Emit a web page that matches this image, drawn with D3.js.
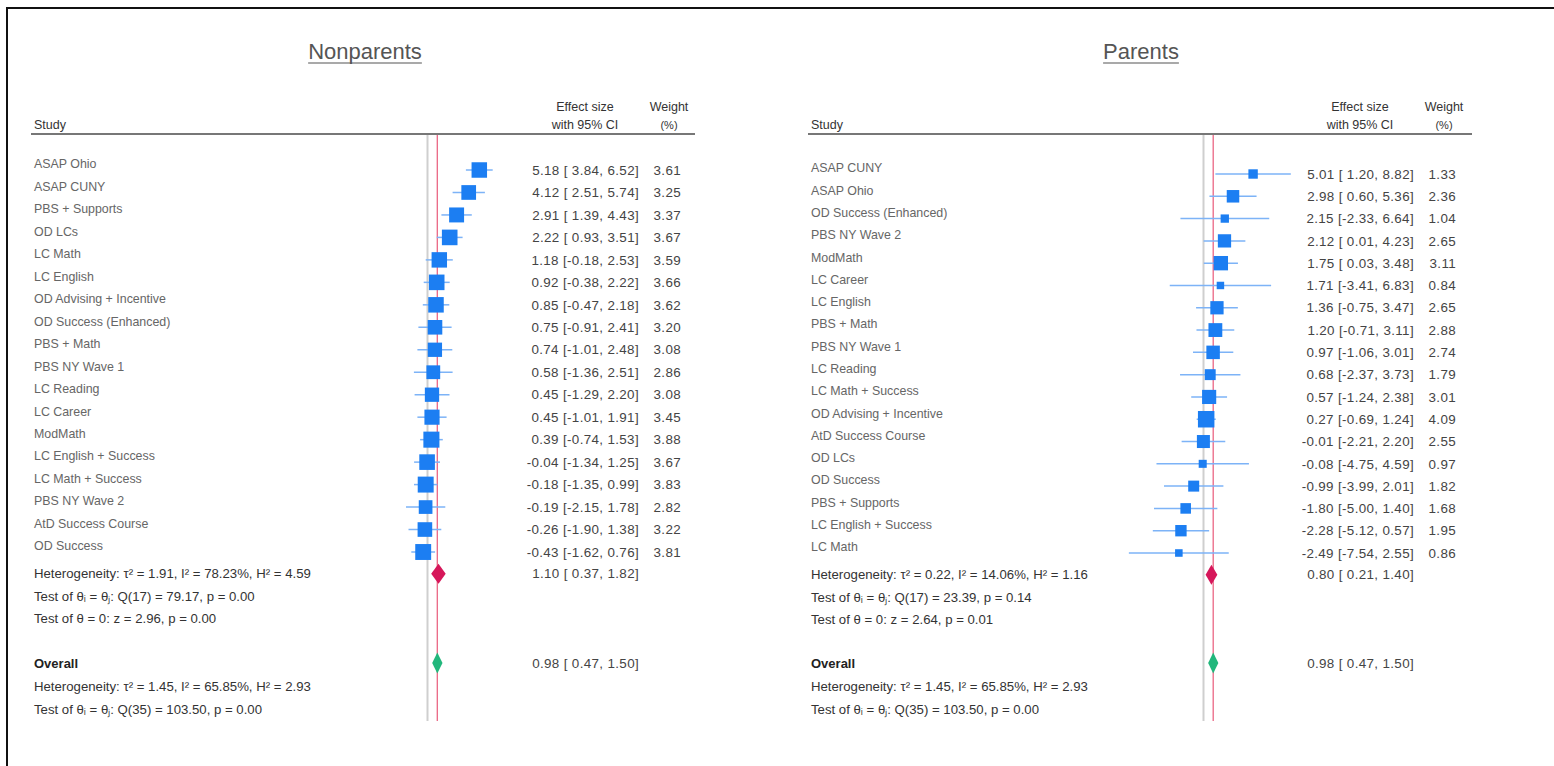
<!DOCTYPE html>
<html>
<head>
<meta charset="utf-8">
<script src="https://cdn.jsdelivr.net/npm/d3@7"></script>
<style>
  body { margin: 0; background: #fff; }
  text { font-family: "Liberation Sans", Arial, sans-serif; }
</style>
</head>
<body>
<div id="chart"></div>
<script>
// ---- data ----
const nonparentStudies = ["ASAP Ohio", "ASAP CUNY", "PBS + Supports", "OD LCs", "LC Math", "LC English",
  "OD Advising + Incentive", "OD Success (Enhanced)", "PBS + Math", "PBS NY Wave 1", "LC Reading",
  "LC Career", "ModMath", "LC English + Success", "LC Math + Success", "PBS NY Wave 2",
  "AtD Success Course", "OD Success"];
const nonparentEffect = [5.18, 4.12, 2.91, 2.22, 1.18, 0.92, 0.85, 0.75, 0.74, 0.58, 0.45, 0.45, 0.39, -0.04, -0.18, -0.19, -0.26, -0.43];
const nonparentLower = [3.84, 2.51, 1.39, 0.93, -0.18, -0.38, -0.47, -0.91, -1.01, -1.36, -1.29, -1.01, -0.74, -1.34, -1.35, -2.15, -1.90, -1.62];
const nonparentUpper = [6.52, 5.74, 4.43, 3.51, 2.53, 2.22, 2.18, 2.41, 2.48, 2.51, 2.20, 1.91, 1.53, 1.25, 0.99, 1.78, 1.38, 0.76];
const nonparentWeight = [3.61, 3.25, 3.37, 3.67, 3.59, 3.66, 3.62, 3.20, 3.08, 2.86, 3.08, 3.45, 3.88, 3.67, 3.83, 2.82, 3.22, 3.81];
const nonparentPooled = [1.10, 0.37, 1.82];
const nonparentStats = [
  "Heterogeneity: τ² = 1.91, I² = 78.23%, H² = 4.59",
  "Test of θᵢ = θⱼ: Q(17) = 79.17, p = 0.00",
  "Test of θ = 0: z = 2.96, p = 0.00"
];

const parentStudies = ["ASAP CUNY", "ASAP Ohio", "OD Success (Enhanced)", "PBS NY Wave 2", "ModMath",
  "LC Career", "LC English", "PBS + Math", "PBS NY Wave 1", "LC Reading", "LC Math + Success",
  "OD Advising + Incentive", "AtD Success Course", "OD LCs", "OD Success", "PBS + Supports",
  "LC English + Success", "LC Math"];
const parentEffect = [5.01, 2.98, 2.15, 2.12, 1.75, 1.71, 1.36, 1.20, 0.97, 0.68, 0.57, 0.27, -0.01, -0.08, -0.99, -1.80, -2.28, -2.49];
const parentLower = [1.20, 0.60, -2.33, 0.01, 0.03, -3.41, -0.75, -0.71, -1.06, -2.37, -1.24, -0.69, -2.21, -4.75, -3.99, -5.00, -5.12, -7.54];
const parentUpper = [8.82, 5.36, 6.64, 4.23, 3.48, 6.83, 3.47, 3.11, 3.01, 3.73, 2.38, 1.24, 2.20, 4.59, 2.01, 1.40, 0.57, 2.55];
const parentWeight = [1.33, 2.36, 1.04, 2.65, 3.11, 0.84, 2.65, 2.88, 2.74, 1.79, 3.01, 4.09, 2.55, 0.97, 1.82, 1.68, 1.95, 0.86];
const parentPooled = [0.80, 0.21, 1.40];
const parentStats = [
  "Heterogeneity: τ² = 0.22, I² = 14.06%, H² = 1.16",
  "Test of θᵢ = θⱼ: Q(17) = 23.39, p = 0.14",
  "Test of θ = 0: z = 2.64, p = 0.01"
];

const overallPooled = [0.98, 0.47, 1.50];
const overallStats = [
  "Heterogeneity: τ² = 1.45, I² = 65.85%, H² = 2.93",
  "Test of θᵢ = θⱼ: Q(35) = 103.50, p = 0.00"
];

// ---- page ----
const W = 1554, H = 766;
const svg = d3.select("#chart").append("svg")
  .attr("width", W)
  .attr("height", H);

// frame (only left and top edges are visible in the picture)
svg.append("rect")
  .attr("x", 7).attr("y", 8)
  .attr("width", W + 20).attr("height", H + 20)
  .attr("fill", "none").attr("stroke", "#111").attr("stroke-width", 2);

const fmt = (v) => v.toFixed(2);
const ciText = (e, l, u) => fmt(e) + " [" + (l < 0 ? "" : " ") + fmt(l) + ", " + fmt(u) + "]";

const boxSize = d3.scaleSqrt().domain([0, 4.1]).range([0, 16.5]);

function drawPanel(cfg) {
  const g = svg.append("g");
  const rows = cfg.studies.map((s, i) => ({
    study: s, eff: cfg.effect[i], lo: cfg.lower[i], hi: cfg.upper[i], w: cfg.weight[i]
  }));

  // scales
  const x = d3.scaleLinear().domain(cfg.xDomain).range(cfg.xRange);
  const y = d3.scalePoint().domain(cfg.studies).range(cfg.yRange);
  const step = y.step();

  // title
  const title = g.append("text")
    .attr("x", cfg.titleX).attr("y", 59)
    .attr("text-anchor", "middle")
    .attr("font-size", 22).attr("fill", "#555")
    .text(cfg.title);
  const tw = title.node().getComputedTextLength();
  g.append("line")
    .attr("x1", cfg.titleX - tw / 2).attr("x2", cfg.titleX + tw / 2)
    .attr("y1", 63).attr("y2", 63)
    .attr("stroke", "#555").attr("stroke-width", 1.2);

  // headers
  g.append("text").attr("x", cfg.left + 3).attr("y", 129)
    .attr("font-size", 12.5).attr("fill", "#333").text("Study");
  g.append("text").attr("x", cfg.ciRight - 54).attr("y", 111)
    .attr("text-anchor", "middle").attr("font-size", 12.5).attr("fill", "#333").text("Effect size");
  g.append("text").attr("x", cfg.ciRight - 54).attr("y", 129)
    .attr("text-anchor", "middle").attr("font-size", 12.5).attr("fill", "#333").text("with 95% CI");
  g.append("text").attr("x", cfg.wRight - 12).attr("y", 111)
    .attr("text-anchor", "middle").attr("font-size", 12.5).attr("fill", "#333").text("Weight");
  g.append("text").attr("x", cfg.wRight - 12).attr("y", 129)
    .attr("text-anchor", "middle").attr("font-size", 11).attr("fill", "#333").text("(%)");
  g.append("line")
    .attr("x1", cfg.left).attr("x2", cfg.right)
    .attr("y1", 134).attr("y2", 134)
    .attr("stroke", "#777").attr("stroke-width", 2);

  // reference lines: no effect and overall effect
  g.append("line")
    .attr("x1", x(0)).attr("x2", x(0))
    .attr("y1", 135).attr("y2", 721)
    .attr("stroke", "#cfcfcf").attr("stroke-width", 2);
  g.append("line")
    .attr("x1", x(overallPooled[0])).attr("x2", x(overallPooled[0]))
    .attr("y1", 135).attr("y2", 721)
    .attr("stroke", "#ea6684").attr("stroke-width", 1.3);

  // study rows
  const row = g.selectAll(".row")
    .data(rows)
    .enter()
    .append("g")
    .attr("class", "row");

  row.append("text")
    .attr("x", cfg.left + 3)
    .attr("y", (d) => y(d.study) - 6)
    .attr("dy", "0.35em")
    .attr("font-size", 12.4).attr("fill", "#666")
    .text((d) => d.study);

  row.append("line")
    .attr("x1", (d) => x(d.lo)).attr("x2", (d) => x(d.hi))
    .attr("y1", (d) => y(d.study)).attr("y2", (d) => y(d.study))
    .attr("stroke", "#7db3f7").attr("stroke-width", 1.5);

  row.append("rect")
    .attr("x", (d) => x(d.eff) - boxSize(d.w) / 2)
    .attr("y", (d) => y(d.study) - boxSize(d.w) / 2)
    .attr("width", (d) => boxSize(d.w))
    .attr("height", (d) => boxSize(d.w))
    .attr("fill", "#1c7ef2");

  const numText = (sel) => sel
    .attr("dy", "0.35em")
    .attr("text-anchor", "end")
    .attr("font-size", 13.4)
    .attr("letter-spacing", 0.35)
    .attr("fill", "#444");

  row.append("text")
    .attr("x", cfg.ciRight)
    .attr("y", (d) => y(d.study))
    .call(numText)
    .text((d) => ciText(d.eff, d.lo, d.hi));

  row.append("text")
    .attr("x", cfg.wRight)
    .attr("y", (d) => y(d.study))
    .call(numText)
    .text((d) => fmt(d.w));

  // pooled group estimate
  const last = y(cfg.studies[cfg.studies.length - 1]);
  const yPool = last + step * 0.97;
  const diamond = (p, cy, hh) =>
    [[x(p[1]), cy], [x(p[0]), cy - hh], [x(p[2]), cy], [x(p[0]), cy + hh]].join(" ");

  g.append("polygon")
    .attr("points", diamond(cfg.pooled, yPool, 10))
    .attr("fill", "#d6175a");
  g.append("text")
    .attr("x", cfg.ciRight).attr("y", yPool)
    .call(numText)
    .text(ciText(cfg.pooled[0], cfg.pooled[1], cfg.pooled[2]));

  g.selectAll(".stat")
    .data(cfg.stats)
    .enter()
    .append("text")
    .attr("x", cfg.left + 3)
    .attr("y", (d, i) => yPool + i * step)
    .attr("dy", "0.35em")
    .attr("font-size", 13.2).attr("fill", "#333")
    .text((d) => d);

  // overall estimate
  const yAll = 663;
  g.append("text")
    .attr("x", cfg.left + 3).attr("y", yAll).attr("dy", "0.35em")
    .attr("font-size", 13).attr("font-weight", "bold").attr("fill", "#222")
    .text("Overall");
  g.append("polygon")
    .attr("points", diamond(overallPooled, yAll, 10.5))
    .attr("fill", "#22b77c");
  g.append("text")
    .attr("x", cfg.ciRight).attr("y", yAll)
    .call(numText)
    .text(ciText(overallPooled[0], overallPooled[1], overallPooled[2]));

  g.selectAll(".ostat")
    .data(overallStats)
    .enter()
    .append("text")
    .attr("x", cfg.left + 3)
    .attr("y", (d, i) => yAll + (i + 1) * 23)
    .attr("dy", "0.35em")
    .attr("font-size", 13.2).attr("fill", "#333")
    .text((d) => d);
}

drawPanel({
  title: "Nonparents", titleX: 365,
  studies: nonparentStudies, effect: nonparentEffect, lower: nonparentLower,
  upper: nonparentUpper, weight: nonparentWeight, pooled: nonparentPooled, stats: nonparentStats,
  left: 31, right: 695, ciRight: 639, wRight: 681,
  xDomain: [-2.5, 7], xRange: [402.5, 497.5],
  yRange: [170, 552]
});

drawPanel({
  title: "Parents", titleX: 1141,
  studies: parentStudies, effect: parentEffect, lower: parentLower,
  upper: parentUpper, weight: parentWeight, pooled: parentPooled, stats: parentStats,
  left: 808, right: 1472, ciRight: 1414, wRight: 1456,
  xDomain: [-8, 9], xRange: [1124.3, 1292.6],
  yRange: [174, 553]
});
</script>
</body>
</html>
